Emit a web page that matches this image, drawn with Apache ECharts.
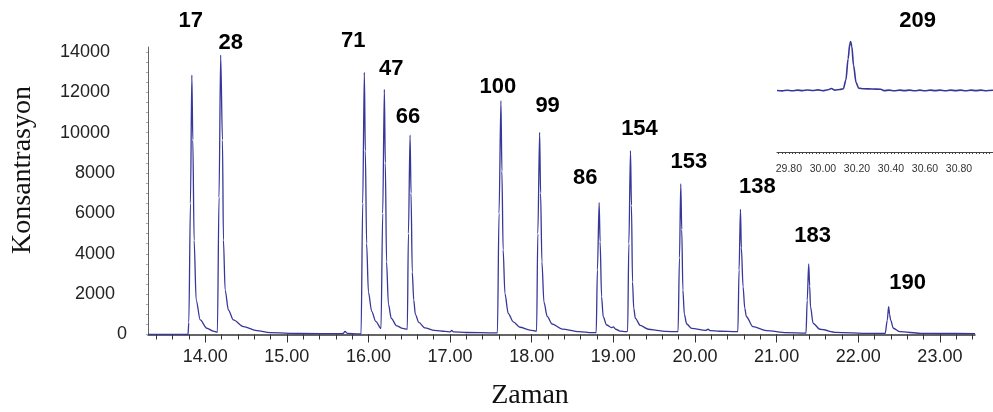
<!DOCTYPE html>
<html>
<head>
<meta charset="utf-8">
<script src="https://cdn.jsdelivr.net/npm/echarts@6/dist/echarts.min.js"></script>
<style>
  html, body { margin: 0; padding: 0; background: #fff; }
  #chart { width: 993px; height: 412px; }
</style>
</head>
<body>
<div id="chart"></div>
<script>
// Chromatogram trace: [retention time (min), signal]
const chromatogram = [
  [13.30, 0], [13.79, 0], [13.80, 600], [13.82, 6500], [13.837, 12860],
  [13.849, 9640], [13.865, 4670], [13.89, 1710], [13.94, 720], [14.02, 310], [14.10, 170], [14.15, 110],
  [14.17, 6800], [14.19, 13850],
  [14.212, 9640], [14.224, 4680], [14.245, 2200], [14.285, 1210], [14.346, 720], [14.469, 390], [14.633, 190],
  [14.796, 90], [15.163, 50], [15.65, 40], [15.69, 50], [15.714, 150], [15.74, 60], [15.88, 30], [15.91, 30],
  [15.93, 6500], [15.95, 12990],
  [15.962, 9100], [15.978, 4500], [16.0, 2100], [16.04, 1150], [16.09, 650], [16.154, 300],
  [16.175, 6000], [16.195, 12150],
  [16.207, 8500], [16.222, 3600], [16.245, 1500], [16.28, 800], [16.346, 430], [16.42, 300], [16.476, 260],
  [16.49, 5000], [16.51, 9885],
  [16.522, 7000], [16.537, 3100], [16.555, 1700], [16.575, 1000], [16.617, 600], [16.69, 330], [16.81, 200],
  [16.94, 150], [17.0, 130], [17.02, 200], [17.04, 130], [17.2, 100], [17.55, 80], [17.58, 80],
  [17.60, 6000], [17.623, 11585],
  [17.635, 8100], [17.65, 4200], [17.672, 2040], [17.712, 1050], [17.774, 630], [17.856, 360], [17.978, 220], [18.06, 170],
  [18.075, 5000], [18.097, 10020],
  [18.109, 7000], [18.125, 3600], [18.15, 1600], [18.19, 900], [18.25, 520], [18.374, 270], [18.58, 140], [18.74, 90], [18.79, 90],
  [18.805, 3200], [18.826, 6530],
  [18.838, 4600], [18.856, 1870], [18.876, 880], [18.917, 470], [18.978, 340], [19.0, 380], [19.03, 260], [19.08, 170],
  [19.15, 140], [19.175, 150],
  [19.19, 4500], [19.21, 9110],
  [19.222, 6400], [19.235, 2600], [19.25, 1300], [19.27, 800], [19.33, 450], [19.43, 260], [19.56, 190], [19.64, 150], [19.793, 140],
  [19.81, 3800], [19.826, 7460],
  [19.838, 5200], [19.852, 2200], [19.87, 1000], [19.898, 520], [19.96, 300], [20.13, 200], [20.16, 260], [20.19, 190],
  [20.3, 160], [20.5, 140], [20.525, 140],
  [20.54, 3200], [20.557, 6200],
  [20.568, 4300], [20.589, 2370], [20.61, 1300], [20.63, 880], [20.71, 390], [20.875, 190], [21.12, 90], [21.36, 70],
  [21.375, 1700], [21.393, 3494],
  [21.405, 2400], [21.415, 1380], [21.447, 555], [21.53, 260], [21.73, 110], [22.13, 60], [22.33, 55],
  [22.355, 700], [22.372, 1378],
  [22.384, 1000], [22.396, 720], [22.43, 310], [22.51, 140], [22.76, 60], [23.0, 50], [23.43, 45]
];

// Peak numbers with apex time and height
const peakNames   = ['17', '28', '71', '47', '66', '100', '99', '86', '154', '153', '138', '183', '190'];
const peakTimes   = [13.837, 14.19, 15.95, 16.195, 16.51, 17.623, 18.097, 18.826, 19.21, 19.826, 20.557, 21.393, 22.372];
const peakHeights = [12860, 13850, 12990, 12150, 9885, 11585, 10020, 6530, 9110, 7460, 6200, 3494, 1378];

// Late-eluting peak, shown in the enlarged window (relative signal)
const insetTrace = [
  [29.73, 49.6], [29.76, 49.3], [29.79, 49.8], [29.82, 49.4], [29.85, 49.9], [29.88, 49.5], [29.91, 50.0],
  [29.94, 49.6], [29.97, 50.1], [30.00, 49.4], [30.03, 50.2], [30.05, 51.2], [30.07, 49.9], [30.10, 50.4],
  [30.12, 51.0], [30.135, 58], [30.148, 75], [30.158, 87], [30.163, 89], [30.17, 85], [30.18, 70],
  [30.195, 56], [30.21, 51.5], [30.24, 51.0], [30.29, 50.8], [30.34, 50.6], [30.36, 49.5], [30.39, 49.9],
  [30.42, 49.4], [30.45, 49.9], [30.48, 49.5], [30.51, 49.9], [30.54, 49.4], [30.57, 49.9], [30.60, 49.4],
  [30.63, 49.9], [30.66, 49.5], [30.69, 49.9], [30.72, 49.4], [30.75, 49.9], [30.78, 49.5], [30.81, 49.9],
  [30.84, 49.4], [30.87, 49.9], [30.90, 49.5], [30.93, 49.9], [30.96, 49.4], [31.00, 49.8]
];
const insetPeakName = '209';
const insetPeakTime = 30.163;
const insetPeakHeight = 89;

// Axis ticks and labels
const xMajorTicks = [14, 15, 16, 17, 18, 19, 20, 21, 22, 23];
const yLabelTicks = [0, 2000, 4000, 6000, 8000, 10000, 12000, 14000];
const insetLabelTicks = [29.8, 30.0, 30.2, 30.4, 30.6, 30.8];
const xMinorTicks = [];
for (let i = 67; i <= 117; i++) xMinorTicks.push(+(i * 0.2).toFixed(1));
const yMinorTicks = [];
for (let i = 0; i <= 28; i++) yMinorTicks.push(i * 500);
const insetMinorTicks = [];
for (let i = 1487; i <= 1550; i++) insetMinorTicks.push(+(i * 0.02).toFixed(2));

// Label offsets (px) from each apex
const labelOffsets = [
  [-1, -54], [10, -12], [-11, -31], [7, -20], [-2, -18], [-3, -14], [8, -26],
  [-14, -25], [9, -22], [8, -22], [17, -22], [4, -28], [19, -24]
];

const SANS = "'Liberation Sans', Arial, sans-serif";
const LINE = '#37379a';

const peakLabelData = peakNames.map((n, i) => ({
  value: [peakTimes[i], peakHeights[i]],
  name: n,
  label: { offset: labelOffsets[i] }
}));

const peakLabelStyle = {
  show: true, position: 'inside', formatter: p => p.name, opacity: 1,
  fontFamily: SANS, fontWeight: 'bold', fontSize: 22, color: '#000'
};

const chart = echarts.init(document.getElementById('chart'), null, { renderer: 'canvas' });
chart.setOption({
  animation: false,
  backgroundColor: '#fff',
  grid: [
    { left: 148, right: 18, top: 47, bottom: 77.5 },
    { left: 777, right: 0, top: 28, bottom: 260 }
  ],
  xAxis: [
    {
      type: 'value', gridIndex: 0, min: 13.3, max: 23.43,
      axisLine: { show: true, lineStyle: { color: '#333', width: 1.5 } },
      axisTick: { show: true, customValues: xMajorTicks, length: 8, lineStyle: { color: '#333' } },
      axisLabel: {
        customValues: xMajorTicks, margin: 14,
        formatter: v => v.toFixed(2),
        fontFamily: SANS, fontSize: 18, color: '#222'
      },
      splitLine: { show: false }
    },
    {
      type: 'value', gridIndex: 0, min: 13.3, max: 23.43, position: 'bottom',
      axisLine: { show: false },
      axisTick: { show: true, customValues: xMinorTicks, length: 5, lineStyle: { color: '#333' } },
      axisLabel: { show: false },
      splitLine: { show: false }
    },
    {
      type: 'value', gridIndex: 1, min: 29.73, max: 31.0,
      axisLine: { show: true, lineStyle: { color: '#444', width: 1 } },
      axisTick: { show: true, customValues: insetMinorTicks, length: 2, lineStyle: { color: '#444' } },
      axisLabel: {
        customValues: insetLabelTicks, margin: 12,
        formatter: v => v.toFixed(2),
        fontFamily: SANS, fontSize: 10.5, color: '#333'
      },
      splitLine: { show: false }
    }
  ],
  yAxis: [
    {
      type: 'value', gridIndex: 0, min: 0, max: 14250,
      axisLine: { show: true, lineStyle: { color: '#666', width: 1 } },
      axisTick: { show: true, customValues: yMinorTicks, length: 2, lineStyle: { color: '#aaa' } },
      axisLabel: {
        customValues: yLabelTicks, margin: 21,
        formatter: v => '{d' + String(v).length + '|' + v + '}',
        rich: {
          d1: { fontFamily: SANS, fontSize: 18, color: '#222' },
          d4: { fontFamily: SANS, fontSize: 18, color: '#222', padding: [0, 12, 0, 0] },
          d5: { fontFamily: SANS, fontSize: 18, color: '#222', padding: [0, 17, 0, 0] }
        }
      },
      splitLine: { show: false }
    },
    {
      type: 'value', gridIndex: 1, min: 0, max: 100, show: false
    }
  ],
  series: [
    {
      type: 'line', xAxisIndex: 0, yAxisIndex: 0,
      data: chromatogram, showSymbol: false,
      smooth: 0.3, smoothMonotone: 'x',
      lineStyle: { color: LINE, width: 1.3 }
    },
    {
      type: 'scatter', xAxisIndex: 0, yAxisIndex: 0,
      data: peakLabelData, symbolSize: 1, itemStyle: { color: 'rgba(0,0,0,0)' },
      label: peakLabelStyle
    },
    {
      type: 'line', xAxisIndex: 2, yAxisIndex: 1,
      data: insetTrace, showSymbol: false,
      smooth: 0.3, smoothMonotone: 'x',
      lineStyle: { color: LINE, width: 1.6 }
    },
    {
      type: 'scatter', xAxisIndex: 2, yAxisIndex: 1,
      data: [{ value: [insetPeakTime, insetPeakHeight], name: insetPeakName, label: { offset: [67, -21] } }],
      symbolSize: 1, itemStyle: { color: 'rgba(0,0,0,0)' },
      label: peakLabelStyle
    }
  ],
  graphic: [
    {
      type: 'text', x: 23, y: 170, rotation: Math.PI / 2,
      style: {
        text: 'Konsantrasyon', fontFamily: "'Liberation Serif', 'Times New Roman', serif",
        fontSize: 28, fill: '#111', textAlign: 'center', textVerticalAlign: 'middle'
      }
    },
    {
      type: 'text', x: 530, y: 396,
      style: {
        text: 'Zaman', fontFamily: "'Liberation Serif', 'Times New Roman', serif",
        fontSize: 28, fill: '#111', textAlign: 'center', textVerticalAlign: 'middle'
      }
    }
  ]
});
</script>
</body>
</html>
